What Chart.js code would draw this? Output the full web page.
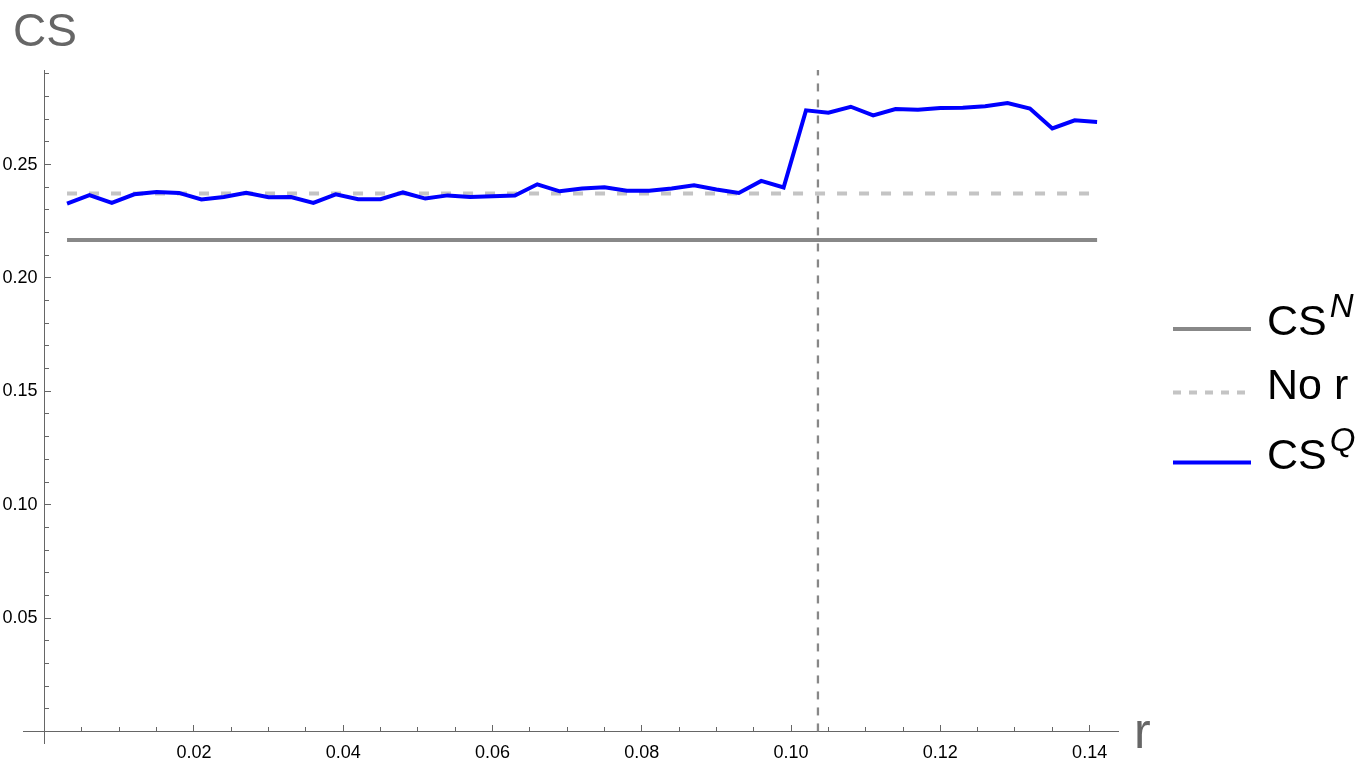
<!DOCTYPE html>
<html>
<head>
<meta charset="utf-8">
<script src="https://cdn.jsdelivr.net/npm/chart.js@4.4.1/dist/chart.umd.min.js"></script>
<style>
  html, body { margin: 0; padding: 0; background: #fff; }
  #wrap { width: 1370px; height: 768px; }
</style>
</head>
<body>
<div id="wrap"><canvas id="chart" width="1370" height="768"></canvas></div>
<script>
// r の値（横軸）
const rValues = [
  0.003, 0.006, 0.009, 0.012, 0.015, 0.018, 0.021, 0.024, 0.027, 0.030,
  0.033, 0.036, 0.039, 0.042, 0.045, 0.048, 0.051, 0.054, 0.057, 0.060,
  0.063, 0.066, 0.069, 0.072, 0.075, 0.078, 0.081, 0.084, 0.087, 0.090,
  0.093, 0.096, 0.099, 0.102, 0.105, 0.108, 0.111, 0.114, 0.117, 0.120,
  0.123, 0.126, 0.129, 0.132, 0.135, 0.138, 0.141
];
// CS^Q の値
const csQValues = [
  0.2328, 0.2365, 0.2331, 0.2369, 0.2379, 0.2375, 0.2346, 0.2357, 0.2375, 0.2356,
  0.2357, 0.2331, 0.2369, 0.2347, 0.2347, 0.2377, 0.2350, 0.2364, 0.2357, 0.2360,
  0.2363, 0.2413, 0.2382, 0.2394, 0.2400, 0.2385, 0.2385, 0.2394, 0.2409, 0.2390,
  0.2375, 0.2428, 0.2399, 0.2739, 0.2729, 0.2755, 0.2717, 0.2745, 0.2742, 0.2749,
  0.2751, 0.2757, 0.2771, 0.2747, 0.2659, 0.2695, 0.2688
];
// 水平線（CS^N と No r）
const csNValue = 0.2167;
const noRValue = 0.2372;
// 縦の破線の位置
const rThreshold = 0.1036;
// 軸の範囲と目盛り
const xRange = [-0.0029, 0.1438];
const yRange = [-0.0051, 0.2917];
const xMajorStep = 0.02, xMinorStep = 0.005;
const yMajorStep = 0.05, yMinorStep = 0.01;

const FONT = '"Liberation Sans", Arial, Helvetica, sans-serif';

// 目盛りを step の倍数（0 を除く）だけに絞る
function keepMultiples(step) {
  return (scale) => {
    scale.ticks = scale.ticks.filter(t => {
      const k = t.value / step;
      return t.value > 1e-9 && Math.abs(k - Math.round(k)) < 1e-6;
    });
  };
}

// タイトル・軸ラベル・凡例を描く
const labelsPlugin = {
  id: 'labels',
  afterDraw(chart) {
    const ctx = chart.ctx;
    ctx.save();
    ctx.fillStyle = '#666';
    ctx.textAlign = 'left';
    ctx.textBaseline = 'alphabetic';
    ctx.font = '46px ' + FONT;
    ctx.fillText('CS', 13, 46);
    ctx.font = '50px ' + FONT;
    ctx.fillText('r', 1134, 748);

    // 凡例
    const rows = [335, 398.5, 468.5];
    chart.data.datasets
      .filter(ds => ds.legendBase)
      .sort((a, b) => a.legendRow - b.legendRow)
      .forEach((ds, i) => {
        const base = rows[i];
        ctx.beginPath();
        ctx.strokeStyle = ds.borderColor;
        ctx.lineWidth = 4;
        ctx.setLineDash(ds.legendDash || []);
        ctx.moveTo(1173, base - 6);
        ctx.lineTo(1251, base - 6);
        ctx.stroke();
        ctx.setLineDash([]);
        ctx.fillStyle = '#000';
        ctx.font = '43px ' + FONT;
        ctx.fillText(ds.legendBase, 1267, base);
        if (ds.legendSup) {
          const w = ctx.measureText(ds.legendBase).width;
          ctx.font = 'italic 33px ' + FONT;
          ctx.fillText(ds.legendSup, 1267 + w + 3, base - 18);
        }
      });
    ctx.restore();
  }
};

const axisStyle = (step, tickLen, showLabels, border, after, isY) => ({
  type: 'linear',
  border: { display: border, color: '#666', width: 1 },
  grid: { drawOnChartArea: false, drawTicks: true, tickLength: tickLen, color: '#666', tickWidth: 1 },
  ticks: {
    display: showLabels,
    stepSize: step,
    includeBounds: false,
    autoSkip: false,
    maxRotation: 0,
    padding: isY ? 0 : 18,
    color: '#000',
    font: { family: FONT, size: 18 },
    // 縦軸のラベルは軸から少し離す
    callback: (v) => Number(v).toFixed(2) + (isY ? '\u2009\u2009' : '')
  },
  afterBuildTicks: after
});

new Chart(document.getElementById('chart'), {
  type: 'line',
  data: {
    datasets: [
      {
        // CS^Q
        label: 'CSQ',
        legendBase: 'CS', legendSup: 'Q', legendRow: 3,
        data: rValues.map((r, i) => ({ x: r, y: csQValues[i] })),
        borderColor: '#0000ff',
        borderWidth: 4,
        pointRadius: 0,
        tension: 0,
        order: 0
      },
      {
        // しきい値の縦線
        label: 'threshold',
        data: [{ x: rThreshold, y: 0 }, { x: rThreshold, y: yRange[1] }],
        borderColor: '#888',
        borderWidth: 2.3,
        borderDash: [8, 8],
        pointRadius: 0,
        order: 3
      },
      {
        // No r
        label: 'No r',
        legendBase: 'No r', legendRow: 2, legendDash: [8, 8],
        data: [{ x: rValues[0], y: noRValue }, { x: rValues[rValues.length - 1], y: noRValue }],
        borderColor: '#c4c4c4',
        borderWidth: 4,
        borderDash: [10, 12],
        pointRadius: 0,
        order: 2
      },
      {
        // CS^N
        label: 'CSN',
        legendBase: 'CS', legendSup: 'N', legendRow: 1,
        data: [{ x: rValues[0], y: csNValue }, { x: rValues[rValues.length - 1], y: csNValue }],
        borderColor: '#888',
        borderWidth: 4,
        pointRadius: 0,
        order: 1
      }
    ]
  },
  options: {
    responsive: false,
    animation: false,
    layout: { padding: { left: 23, top: 70, right: 252, bottom: 25 } },
    plugins: { legend: { display: false }, tooltip: { enabled: false } },
    scales: {
      x: Object.assign(axisStyle(xMajorStep, -7, true, true, keepMultiples(xMajorStep), false), {
        min: xRange[0], max: xRange[1], position: { y: 0 }
      }),
      xMinor: Object.assign(axisStyle(xMinorStep, -4, false, false, keepMultiples(xMinorStep), false), {
        axis: 'x', min: xRange[0], max: xRange[1], position: { y: 0 }
      }),
      y: Object.assign(axisStyle(yMajorStep, -7, true, true, keepMultiples(yMajorStep), true), {
        min: yRange[0], max: yRange[1], position: { x: 0 }
      }),
      yMinor: Object.assign(axisStyle(yMinorStep, -4, false, false, keepMultiples(yMinorStep), true), {
        axis: 'y', min: yRange[0], max: yRange[1], position: { x: 0 }
      })
    }
  },
  plugins: [labelsPlugin]
});
</script>
</body>
</html>
